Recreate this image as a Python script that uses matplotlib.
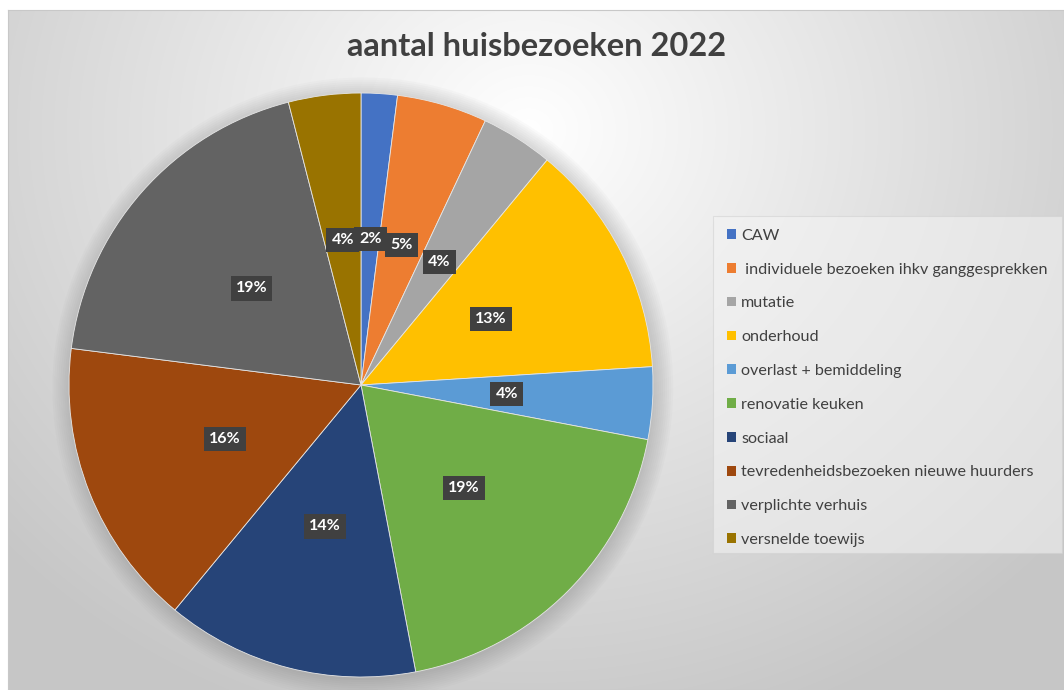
import numpy as np
import matplotlib
matplotlib.use('Agg')
import matplotlib.pyplot as plt
from matplotlib.patches import Patch, Circle, Rectangle

plt.rcParams['font.family'] = ['Lato', 'DejaVu Sans']

# data
categories = ['CAW', ' individuele bezoeken ihkv ganggesprekken', 'mutatie', 'onderhoud',
              'overlast + bemiddeling', 'renovatie keuken', 'sociaal',
              'tevredenheidsbezoeken nieuwe huurders', 'verplichte verhuis', 'versnelde toewijs']
percentages = [2, 5, 4, 13, 4, 19, 14, 16, 19, 4]
colors = ['#4472C4', '#ED7D31', '#A5A5A5', '#FFC000', '#5B9BD5',
          '#70AD47', '#264478', '#9E480E', '#636363', '#997300']
title = 'aantal huisbezoeken 2022'

W, H = 1064, 690
fig = plt.figure(figsize=(W / 100, H / 100), dpi=100)
fig.patch.set_facecolor('white')

# chart area background: soft radial gradient, light at the top centre
bg = fig.add_axes([8 / W, 0, (W - 8) / W, (H - 10) / H])
yy, xx = np.mgrid[0:H - 10, 0:W - 8]
d = np.sqrt(((xx - 520) / 700.0) ** 2 + ((yy - 120) / 620.0) ** 2)
shade = np.clip(1.0 - 0.22 * d, 0.78, 1.0)
bg.imshow(np.dstack([shade, shade, shade]), aspect='auto', origin='upper',
          extent=[0, 1, 0, 1])
bg.set_xlim(0, 1)
bg.set_ylim(0, 1)
for s in bg.spines.values():
    s.set_edgecolor('#c8c8c8')
    s.set_linewidth(0.8)
bg.set_xticks([])
bg.set_yticks([])

# pie axes: centre (361, 385), radius 292 px
cx, cy, r = 361, 385, 292
ax = fig.add_axes([(cx - r) / W, (H - cy - r) / H, 2 * r / W, 2 * r / H])
ax.set_xlim(-1, 1)
ax.set_ylim(-1, 1)
ax.axis('off')

# soft shadow around the pie
for k in range(10):
    ax.add_patch(Circle((0.006, -0.01), 1.0 + 0.007 * k, color='#707070',
                        alpha=0.03, lw=0, zorder=0, clip_on=False))

wedges, _, autotexts = ax.pie(
    percentages, colors=colors, startangle=90, counterclock=False,
    radius=1.0, autopct='%1.0f%%', pctdistance=0.5,
    wedgeprops=dict(edgecolor='#e6e6e6', linewidth=0.6),
    textprops=dict(color='white', fontsize=11.5, fontweight='bold'))
ax.set_xlim(-1, 1)
ax.set_ylim(-1, 1)
ax.set_aspect('auto')
for t in autotexts:
    t.set_bbox(dict(boxstyle='square,pad=0.32', facecolor='#404040',
                    edgecolor='none'))
    t.set_zorder(5)

fig.text(537 / W, 1 - 47 / H, title, ha='center', va='center',
         fontsize=23.5, fontweight='bold', color='#404040')

# legend box
fig.patches.append(Rectangle((713 / W, 1 - 553 / H), 349 / W, 337 / H,
                             transform=fig.transFigure, facecolor='#f4f4f4',
                             alpha=0.55, edgecolor='#d0d0d0', lw=0.8))
handles = [Patch(facecolor=c, edgecolor='none') for c in colors]
leg = fig.legend(handles, categories, loc='upper left',
                 bbox_to_anchor=(713 / W, 1 - 215 / H), frameon=False,
                 fontsize=11.6, labelcolor='#404040', handlelength=0.55,
                 handleheight=0.55, handletextpad=0.35, labelspacing=1.23,
                 borderpad=0.85, borderaxespad=0)

fig.savefig('out.png', dpi=100)
